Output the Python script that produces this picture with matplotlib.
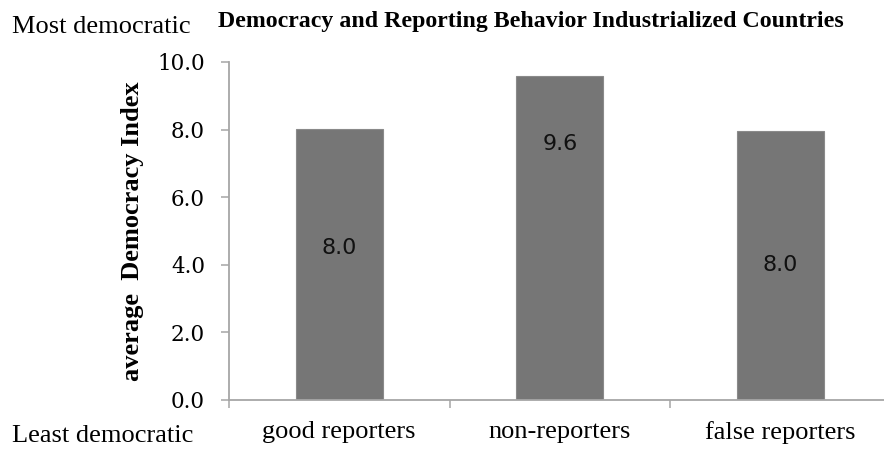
import matplotlib
matplotlib.use("Agg")
import matplotlib.pyplot as plt
import numpy as np

categories = ["good reporters", "non-reporters", "false reporters"]
avg_democracy = [8.02, 9.58, 7.96]
label_heights = [4.5, 7.57, 4.0]   # vertical placement of the value labels
y_ticks = [0, 2, 4, 6, 8, 10]

title = "Democracy and Reporting Behavior Industrialized Countries"
y_title = "average  Democracy Index"

SERIF = ["Liberation Serif", "DejaVu Serif"]
AXIS_GREY = "#a6a6a6"
BAR_GREY = "#767676"

fig = plt.figure(figsize=(8.84, 4.49), dpi=100)
W, H = 884, 449
left, right, top, bottom = 229, 890.5, 62, 400
ax = fig.add_axes([left / W, 1 - bottom / H, (right - left) / W, (bottom - top) / H])

x = np.arange(len(categories))
ax.bar(x, avg_democracy, width=0.395, color=BAR_GREY, edgecolor="#8a8a8a", linewidth=0.8, zorder=2)

for xi, v, ly in zip(x, avg_democracy, label_heights):
    ax.text(xi, ly, f"{v:.1f}", ha="center", va="center", fontsize=16,
            family="DejaVu Sans", color="#111111", zorder=3)

ax.set_xlim(-0.5, len(categories) - 0.5)
ax.set_ylim(0, 10)

for side in ("top", "right"):
    ax.spines[side].set_visible(False)
for side in ("left", "bottom"):
    ax.spines[side].set_color(AXIS_GREY)
    ax.spines[side].set_linewidth(1.3)

ax.set_yticks(y_ticks)
ax.set_yticklabels([f"{t:.1f}" for t in y_ticks], family="DejaVu Serif", fontsize=15.5)
ax.tick_params(axis="y", direction="out", length=5.8, width=1.1, color=AXIS_GREY, pad=11.5)

ax.set_xticks(x)
ax.set_xticklabels(categories, family=SERIF, fontsize=19)
ax.set_xticks(np.arange(len(categories) + 1) - 0.5, minor=True)
ax.tick_params(axis="x", which="major", length=0, pad=15)
ax.tick_params(axis="x", which="minor", direction="out", length=5.8, width=1.1, color=AXIS_GREY)

fig.text(218 / W, 1 - 27 / H, title, family=SERIF, fontweight="bold", fontsize=17.2,
         ha="left", va="baseline")
fig.text(12 / W, 1 - 33 / H, "Most democratic", family=SERIF, fontsize=19,
         ha="left", va="baseline")
fig.text(12 / W, 1 - 442 / H, "Least democratic", family=SERIF, fontsize=19,
         ha="left", va="baseline")
fig.text(132 / W, 1 - 231 / H, y_title, family=SERIF, fontweight="bold", fontsize=19,
         rotation=90, ha="center", va="center")

fig.savefig("out.png", dpi=100)
